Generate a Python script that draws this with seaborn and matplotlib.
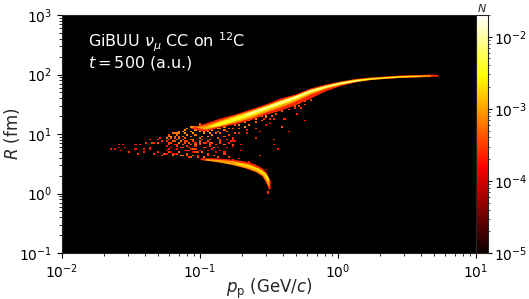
import numpy as np
import pandas as pd
import seaborn as sns
import matplotlib
matplotlib.use('Agg')
import matplotlib.pyplot as plt
from matplotlib.colors import LogNorm

# everything, in log10(p) and log10(R)
# single scattered bins
speck_lp = [-1.647, -1.623, -1.589, -1.589, -1.555, -1.550, -1.575, -1.507, -1.471, -1.463, -1.454, -1.434, -1.415, -1.410,
            -1.398, -1.367, -1.362, -1.357, -1.345, -1.326, -1.309, -1.302, -1.285, -1.277, -1.326, -1.302, -1.277, -1.253,
            -1.229, -1.205, -1.241, -1.217, -1.193, -1.229, -1.198, -1.181, -1.157, -1.145, -1.173, -1.132, -1.108, -1.096,
            -1.072, -1.157, -1.132, -1.091, -1.060, -1.036, -1.024, -1.012,
            -1.205, -1.193, -1.169, -1.145, -1.120, -1.096, -1.072, -1.048, -1.012, -0.975, -0.939, -0.903, -0.867, -0.830,
            -0.794, -0.758, -0.722, -0.649, -0.564, -0.528,
            -1.193, -1.157, -1.120, -1.145, -1.072, -1.036, -1.000, -0.963, -0.927, -0.891, -0.855, -0.770, -1.072, -1.036,
            -0.987, -1.048, -0.939, -0.818, -0.709, -0.468,
            -1.060, -1.036, -1.000, -0.963, -0.927, -0.891, -0.855, -0.818, -0.782, -0.758, -0.722, -0.673, -0.661, -0.601,
            -0.545, -0.528, -0.492, -0.468, -0.407, -0.388, -0.359, -0.468, -0.432, -0.564, -0.601, -1.000, -0.709, -0.770,
            -0.407, -0.245, -0.291, -0.270, -0.311, -0.178, -0.098, -0.492, -0.661, -0.758, -0.507, -0.507]
speck_lr = [0.742, 0.742, 0.826, 0.786, 0.826, 0.775, 0.730, 0.702, 0.814, 0.742, 0.674, 0.826, 0.742, 0.702,
            0.842, 0.898, 0.786, 0.747, 0.842, 0.859, 0.910, 0.842, 0.926, 0.870, 0.674, 0.702, 0.646, 0.663,
            0.702, 0.646, 0.926, 0.954, 1.010, 0.842, 0.870, 0.926, 0.954, 0.870, 0.814, 0.786, 0.842, 0.730,
            0.786, 0.702, 0.635, 0.674, 0.618, 0.758, 0.646, 0.702,
            0.674, 0.646, 0.663, 0.646, 0.630, 0.646, 0.618, 0.646, 0.618, 0.618, 0.646, 0.630, 0.618, 0.674,
            0.618, 0.562, 0.590, 0.534, 0.630, 0.394,
            0.870, 0.854, 0.814, 0.870, 0.854, 0.814, 0.842, 0.854, 0.814, 0.786, 0.842, 0.814, 0.730, 0.702,
            0.702, 0.758, 0.674, 0.702, 0.730, 0.814,
            0.898, 0.814, 0.870, 0.786, 0.842, 0.786, 0.898, 0.814, 0.870, 0.898, 1.010, 1.122, 1.010, 1.094,
            1.262, 1.150, 1.178, 1.262, 1.122, 1.262, 1.038, 0.898, 0.758, 1.038, 0.926, 1.178, 0.814, 0.814,
            1.111, 1.234, 1.346, 1.430, 1.430, 1.654, 1.738, 1.262, 1.066, 0.870, 0.030, -0.010]
speck_n = [2e-4, 2e-4, 2e-4, 1.5e-4, 2e-4, 2e-4, 2e-4, 2.5e-4, 2e-4, 2e-4, 2.5e-4, 2.5e-4, 2e-4, 2.5e-4,
           2.5e-4, 2.5e-4, 3e-4, 2e-4, 3e-4, 2.5e-4, 3e-4, 4e-4, 2.5e-4, 3e-4, 3e-4, 2.5e-4, 4e-4, 3e-4,
           4e-4, 2.5e-4, 3e-4, 4e-4, 5e-4, 3e-4, 2.5e-4, 4e-4, 5e-4, 3e-4, 2.5e-4, 3e-4, 4e-4, 2.5e-4,
           3e-4, 4e-4, 3e-4, 2.5e-4, 4e-4, 3e-4, 2.5e-4, 4e-4,
           3e-4, 4e-4, 3e-4, 4e-4, 5e-4, 4e-4, 3e-4, 5e-4, 4e-4, 5e-4, 4e-4, 5e-4, 4e-4, 3e-4,
           3e-4, 2.5e-4, 3e-4, 2.5e-4, 2.5e-4, 2e-4,
           3e-4, 4e-4, 3e-4, 4e-4, 5e-4, 3e-4, 4e-4, 3e-4, 4e-4, 3e-4, 2.5e-4, 2.5e-4, 4e-4, 3e-4,
           3e-4, 4e-4, 3e-4, 2.5e-4, 2e-4, 2e-4,
           4e-4, 3e-4, 4e-4, 3e-4, 3e-4, 2.5e-4, 3e-4, 3e-4, 2.5e-4, 2.5e-4, 2.5e-4, 3e-4, 2e-4, 2.5e-4,
           2.5e-4, 2e-4, 2.5e-4, 2.5e-4, 2e-4, 2.5e-4, 2e-4, 2e-4, 2e-4, 2.5e-4, 2e-4, 2.5e-4, 2e-4, 2.5e-4,
           2e-4, 2e-4, 2.5e-4, 2.5e-4, 2.5e-4, 2e-4, 2e-4, 2.5e-4, 2e-4, 2e-4, 3e-4, 2e-4]

# textured part where the upper ridge starts, bin by bin
dense_lp = [-1.25, -1.25, -1.25, -1.25, -1.25, -1.23, -1.23, -1.23, -1.23, -1.23, -1.21, -1.21, -1.21, -1.21, -1.21,
            -1.19, -1.19, -1.19, -1.19, -1.19, -1.17, -1.17, -1.17, -1.17, -1.17, -1.15, -1.15, -1.15, -1.15, -1.15,
            -1.13, -1.13, -1.13, -1.13, -1.13, -1.11, -1.11, -1.11, -1.11, -1.11, -1.09, -1.09, -1.09, -1.09, -1.09,
            -1.07, -1.07, -1.07, -1.07, -1.07, -1.05, -1.05, -1.05, -1.05, -1.05, -1.03, -1.03, -1.03, -1.03, -1.03,
            -1.01, -1.01, -1.01, -1.01, -1.01, -0.99, -0.99, -0.99, -0.99, -0.97, -0.97, -0.97, -0.97,
            -0.95, -0.95, -0.95, -0.95, -0.93, -0.93, -0.93, -0.93, -0.91, -0.91, -0.91, -0.91,
            -0.89, -0.89, -0.89, -0.89, -0.87, -0.87, -0.87, -0.87, -0.85, -0.85, -0.85, -0.85,
            -0.83, -0.83, -0.83, -0.83, -0.81, -0.81, -0.81, -0.81, -0.79, -0.79, -0.79,
            -0.77, -0.77, -0.77, -0.77, -0.75, -0.75, -0.75,
            -0.72, -0.72, -0.68, -0.68, -0.64, -0.64, -0.60, -0.60, -0.56, -0.56, -0.52, -0.52,
            -0.48, -0.48, -0.44, -0.44, -0.40, -0.40, -0.36, -0.36, -0.32, -0.32, -0.28, -0.28, -0.24, -0.24, -0.20]
dense_lr = [0.68, 0.72, 0.80, 0.87, 0.93, 0.75, 0.84, 0.90, 0.95, 0.98, 0.70, 0.78, 0.86, 0.93, 0.97,
            0.66, 0.82, 0.89, 0.96, 1.00, 0.74, 0.80, 0.91, 0.98, 1.02, 0.69, 0.85, 0.94, 1.00, 1.04,
            0.77, 0.83, 0.90, 0.97, 1.05, 0.72, 0.87, 0.93, 1.02, 1.07, 0.66, 0.80, 0.89, 0.99, 1.09,
            0.75, 0.84, 0.96, 1.04, 1.11, 0.70, 0.88, 0.92, 1.01, 1.12, 0.79, 0.86, 0.98, 1.06, 1.13,
            0.73, 0.83, 0.94, 1.03, 1.14, 0.69, 0.90, 0.97, 1.08, 0.76, 0.85, 1.00, 1.05,
            0.72, 0.88, 0.95, 1.03, 0.80, 0.92, 1.02, 1.10, 0.74, 0.86, 0.98, 1.06,
            0.70, 0.83, 1.00, 1.12, 0.78, 0.94, 1.05, 1.10, 0.73, 0.89, 1.02, 1.08,
            0.82, 0.96, 1.06, 1.13, 0.76, 0.90, 1.04, 1.16, 0.86, 0.98, 1.10,
            0.80, 0.94, 1.08, 1.18, 0.88, 1.02, 1.14,
            1.09, 1.14, 1.12, 1.19, 1.15, 1.22, 1.20, 1.26, 1.24, 1.30, 1.27, 1.31,
            1.30, 1.36, 1.34, 1.39, 1.38, 1.43, 1.42, 1.47, 1.46, 1.50, 1.47, 1.52, 1.50, 1.55, 1.58]
dense_n = [1.5e-4, 2e-4, 2e-4, 2.5e-4, 3.5e-4, 2e-4, 2.5e-4, 3.5e-4, 5e-4, 4e-4, 1.5e-4, 2e-4, 3e-4, 5e-4, 6e-4,
           1.5e-4, 2.5e-4, 3.5e-4, 5e-4, 5e-4, 2e-4, 2.5e-4, 4e-4, 6e-4, 6e-4, 1.5e-4, 3e-4, 5e-4, 8e-4, 5e-4,
           2e-4, 2.5e-4, 4e-4, 6e-4, 6e-4, 2e-4, 3e-4, 4e-4, 8e-4, 8e-4, 1.5e-4, 2.5e-4, 3.5e-4, 8e-4, 8e-4,
           2e-4, 3e-4, 5e-4, 1e-3, 8e-4, 1.5e-4, 3.5e-4, 5e-4, 1e-3, 8e-4, 2.5e-4, 3e-4, 6e-4, 1e-3, 6e-4,
           2e-4, 3e-4, 5e-4, 1e-3, 8e-4, 1.5e-4, 3.5e-4, 6e-4, 1e-3, 2e-4, 3e-4, 8e-4, 1e-3,
           2e-4, 3.5e-4, 6e-4, 1e-3, 2.5e-4, 4e-4, 8e-4, 1e-3, 2e-4, 3e-4, 6e-4, 8e-4,
           1.5e-4, 2.5e-4, 6e-4, 8e-4, 2.5e-4, 4e-4, 6e-4, 8e-4, 2e-4, 3.5e-4, 5e-4, 6e-4,
           2.5e-4, 4e-4, 5e-4, 8e-4, 2e-4, 3e-4, 5e-4, 8e-4, 2.5e-4, 3.5e-4, 5e-4,
           2e-4, 3e-4, 4e-4, 5e-4, 2e-4, 3.5e-4, 4e-4,
           5e-4, 7e-4, 5e-4, 7e-4, 5e-4, 8e-4, 5e-4, 8e-4, 5e-4, 8e-4, 6e-4, 8e-4,
           4e-4, 7e-4, 4e-4, 7e-4, 4e-4, 6e-4, 4e-4, 6e-4, 4e-4, 6e-4, 3e-4, 5e-4, 3e-4, 5e-4, 3e-4]

# dense ridges: envelope of each colour level
upper_red_lp = [-1.072, -1.000, -0.963, -0.855, -0.746, -0.637, -0.528, -0.420, -0.311, -0.202, -0.093, 0.016, 0.124, 0.233, 0.342, 0.450, 0.559, 0.668, 0.726]
upper_red_hi = [1.100, 1.160, 1.185, 1.269, 1.336, 1.420, 1.504, 1.605, 1.672, 1.773, 1.840, 1.891, 1.933, 1.958, 1.975, 1.992, 2.000, 2.008, 2.000]
upper_red_lo = [1.100, 1.060, 1.050, 1.120, 1.170, 1.240, 1.330, 1.400, 1.490, 1.605, 1.723, 1.815, 1.874, 1.916, 1.933, 1.950, 1.958, 1.966, 1.975]

upper_orange_lp = [-1.040, -0.963, -0.855, -0.746, -0.637, -0.528, -0.420, -0.311, -0.202, -0.093, 0.016, 0.124, 0.233, 0.342, 0.450, 0.668]
upper_orange_hi = [1.120, 1.151, 1.235, 1.319, 1.395, 1.479, 1.571, 1.655, 1.756, 1.824, 1.882, 1.924, 1.950, 1.966, 1.983, 1.996]
upper_orange_lo = [1.120, 1.080, 1.140, 1.200, 1.270, 1.370, 1.454, 1.555, 1.672, 1.765, 1.832, 1.882, 1.916, 1.938, 1.953, 1.972]

upper_yellow_lp = [-0.963, -0.855, -0.746, -0.637, -0.528, -0.420, -0.311, -0.202, -0.093, 0.016, 0.124, 0.233, 0.342, 0.450, 0.596]
upper_yellow_hi = [1.110, 1.210, 1.294, 1.378, 1.471, 1.563, 1.647, 1.748, 1.815, 1.874, 1.916, 1.941, 1.961, 1.975, 1.985]
upper_yellow_lo = [1.110, 1.150, 1.225, 1.311, 1.403, 1.496, 1.588, 1.697, 1.782, 1.844, 1.891, 1.924, 1.945, 1.961, 1.975]

upper_white_lp = [-0.673, -0.528, -0.420, -0.311, -0.202, -0.093, 0.016, 0.160]
upper_white_hi = [1.345, 1.454, 1.546, 1.639, 1.740, 1.807, 1.866, 1.916]
upper_white_lo = [1.319, 1.429, 1.521, 1.613, 1.719, 1.790, 1.852, 1.904]

lower_red_lp = [-1.000, -0.891, -0.782, -0.673, -0.601, -0.550, -0.521, -0.503, -0.492]
lower_red_hi = [0.600, 0.600, 0.580, 0.546, 0.496, 0.430, 0.361, 0.261, 0.227]
lower_red_lo = [0.570, 0.540, 0.497, 0.429, 0.370, 0.294, 0.176, 0.059, 0.092]

lower_orange_lp = [-0.963, -0.855, -0.746, -0.659, -0.594, -0.550, -0.521, -0.507, -0.500]
lower_orange_hi = [0.588, 0.571, 0.546, 0.504, 0.445, 0.395, 0.328, 0.261, 0.227]
lower_orange_lo = [0.563, 0.529, 0.479, 0.429, 0.370, 0.311, 0.210, 0.126, 0.143]

lower_yellow_lp = [-0.746, -0.637, -0.579, -0.536, -0.514, -0.503]
lower_yellow_hi = [0.529, 0.479, 0.429, 0.361, 0.311, 0.261]
lower_yellow_lo = [0.504, 0.445, 0.387, 0.311, 0.227, 0.210]

sns.set_style('ticks')
plt.rcParams['font.family'] = ['DejaVu Sans']
plt.rcParams['mathtext.fontset'] = 'dejavusans'

fig = plt.figure(figsize=(5.29, 2.99), dpi=100)
ax = fig.add_axes([62 / 529, 46 / 299, 414 / 529, 238 / 299])
cax = fig.add_axes([476 / 529, 46 / 299, 12 / 529, 238 / 299])
ax.set_facecolor('black')

norm = LogNorm(vmin=1e-5, vmax=2e-2)
cmap = plt.get_cmap('hot')

df = pd.DataFrame({'p': 10.0 ** np.array(speck_lp + dense_lp),
                   'R': 10.0 ** np.array(speck_lr + dense_lr),
                   'N': speck_n + dense_n})
sns.histplot(data=df, x='p', y='R', weights='N', bins=(200, 150), binrange=((-2, 1), (-1, 3)),
             log_scale=True, cmap='hot', ax=ax)
mesh = ax.collections[0]
mesh.set_norm(norm)

# ridges from the outer colour to the inner one
bands = [(upper_red_lp, upper_red_lo, upper_red_hi, 2.5e-4),
         (lower_red_lp, lower_red_lo, lower_red_hi, 2.5e-4),
         (upper_orange_lp, upper_orange_lo, upper_orange_hi, 1e-3),
         (lower_orange_lp, lower_orange_lo, lower_orange_hi, 1e-3),
         (upper_yellow_lp, upper_yellow_lo, upper_yellow_hi, 3.5e-3),
         (lower_yellow_lp, lower_yellow_lo, lower_yellow_hi, 2e-3),
         (upper_white_lp, upper_white_lo, upper_white_hi, 1.2e-2)]
for lp, lo, hi, level in bands:
    ax.fill_between(10.0 ** np.array(lp), 10.0 ** np.array(lo), 10.0 ** np.array(hi),
                    color=cmap(norm(level)), lw=0)

ax.set_xlim(1e-2, 1e1)
ax.set_ylim(1e-1, 1e3)
ax.grid(False)
ax.tick_params(which='both', direction='out', labelsize=10, colors='black')
ax.set_xlabel(r'$p_{\mathrm{p}}$ (GeV/$c$)', fontsize=12, labelpad=-3)
ax.set_ylabel(r'$R$ (fm)', fontsize=12, labelpad=-2)
ax.text(0.063, 0.885, r'GiBUU $\nu_\mu$ CC on $^{12}$C', color='white', fontsize=11.5,
        transform=ax.transAxes, va='center')
ax.text(0.063, 0.80, r'$t = 500$ (a.u.)', color='white', fontsize=11.5,
        transform=ax.transAxes, va='center')

cb = fig.colorbar(mesh, cax=cax)
cb.ax.tick_params(which='major', labelsize=10, colors='black', length=3, pad=1.5)
cb.ax.tick_params(which='minor', length=1.5)
cb.outline.set_linewidth(0.8)
cax.set_title(r'$N$', fontsize=8, pad=2)

fig.savefig('out.png', dpi=100)
